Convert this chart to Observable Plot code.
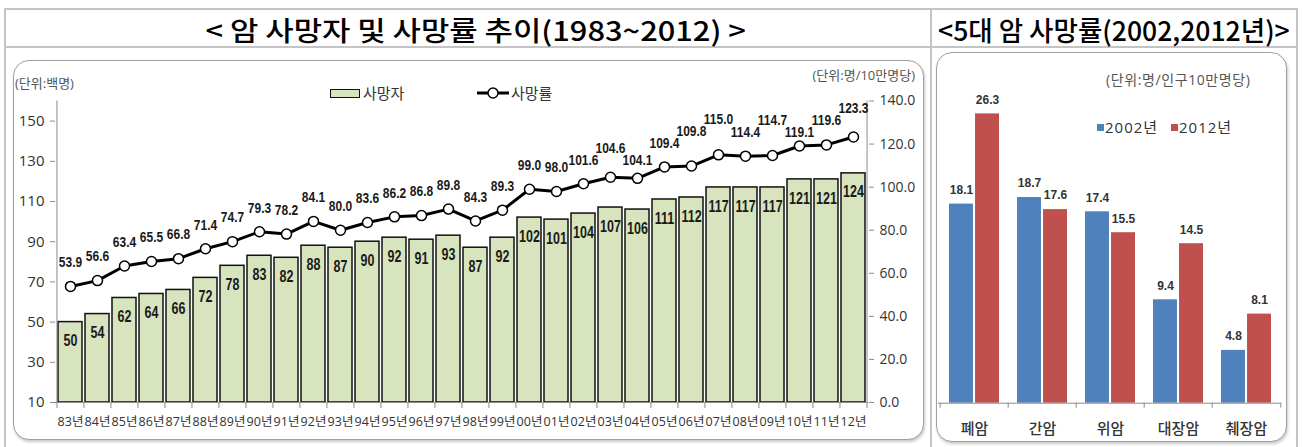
<!DOCTYPE html>
<html><head><meta charset="utf-8">
<script src="https://cdn.jsdelivr.net/npm/d3@7"></script>
<script src="https://cdn.jsdelivr.net/npm/@observablehq/plot@0.6"></script>
<style>
html,body{margin:0;padding:0;background:#fff;}
#root{position:relative;width:1302px;height:447px;overflow:hidden;font-family:"Open Sans","Noto Sans CJK KR",sans-serif;color:#333;}
.ln{position:absolute;background:#c4c4c4;}
.panel{position:absolute;border:1px solid #a0a0a0;border-radius:16px;box-shadow:1px 2px 3px rgba(0,0,0,0.22);background:#fff;box-sizing:border-box;}
.title{position:absolute;font-family:"Noto Sans CJK KR",sans-serif;font-weight:500;font-size:27px;line-height:34px;color:#000;white-space:nowrap;}
.t{position:absolute;white-space:nowrap;line-height:20px;}
.chart{position:absolute;}
</style></head>
<body><div id="root"></div>
<script>
// ---------- data ----------
const years = ["83년","84년","85년","86년","87년","88년","89년","90년","91년","92년","93년","94년","95년","96년","97년","98년","99년","00년","01년","02년","03년","04년","05년","06년","07년","08년","09년","10년","11년","12년"];
const deaths = [50,54,62,64,66,72,78,83,82,88,87,90,92,91,93,87,92,102,101,104,107,106,111,112,117,117,117,121,121,124];
const rates = [53.9,56.6,63.4,65.5,66.8,71.4,74.7,79.3,78.2,84.1,80.0,83.6,86.2,86.8,89.8,84.3,89.3,99.0,98.0,101.6,104.6,104.1,109.4,109.8,115.0,114.4,114.7,119.1,119.6,123.3];
const leftTicks = [10,30,50,70,90,110,130,150];
const rightTicks = [0,20,40,60,80,100,120,140];
const leftSeries = ["사망자","사망률"];

const cancers = ["폐암","간암","위암","대장암","췌장암"];
const rate2002 = [18.1,18.7,17.4,9.4,4.8];
const rate2012 = [26.3,17.6,15.5,14.5,8.1];
const rightSeries = ["2002년","2012년"];

const titleLeft = "< 암 사망자 및 사망률 추이(1983~2012) >";
const titleRight = "<5대 암 사망률(2002,2012년)>";
const unitLeft = "(단위:백명)";
const unitRight = "(단위:명/10만명당)";
const unit2 = "(단위:명/인구10만명당)";

// ---------- layout ----------
const root = document.getElementById("root");
function el(tag, cls, css, html){const e=document.createElement(tag); if(cls) e.className=cls; Object.assign(e.style, css||{}); if(html!=null) e.innerHTML=html; root.appendChild(e); return e;}

// table grid
el("div","ln",{left:"5px",top:"8px",width:"1293px",height:"2px"});
el("div","ln",{left:"5px",top:"46px",width:"1293px",height:"2px"});
el("div","ln",{left:"4px",top:"8px",width:"2px",height:"439px"});
el("div","ln",{left:"930px",top:"8px",width:"2px",height:"439px"});
el("div","ln",{left:"1296px",top:"8px",width:"2px",height:"439px"});

// titles
function title(text, cx, cy, w){
  const e = el("div","title",{left:"0px",top:"0px"},text);
  const ow = e.offsetWidth;
  e.style.left = (cx - ow/2) + "px";
  e.style.top = (cy - 17) + "px";
  e.style.transform = `scaleX(${w/ow})`;
  e.style.transformOrigin = "center center";
}
title(titleLeft, 475, 30, 540);
title(titleRight, 1114, 30, 352);

// panels
el("div","panel",{left:"13px",top:"60px",width:"911px",height:"380px"});
el("div","panel",{left:"936px",top:"52px",width:"351px",height:"390px"});

// condense value labels (the reference uses a narrow bold face)
function squeeze(g, factor){
  g.querySelectorAll('text').forEach(t=>{
    const w=t.getComputedTextLength();
    t.setAttribute("textLength", (w*factor).toFixed(2));
    t.setAttribute("lengthAdjust","spacingAndGlyphs");
  });
}
// stagger neighbouring labels that would collide (as the reference does)
function stagger(g, h, minAbovePoint, defaultAbove){
  const texts=[...g.querySelectorAll('text')];
  let prev=null;
  texts.forEach(t=>{
    const r=t.getBoundingClientRect();
    const cur={cx:(r.left+r.right)/2, cy:(r.top+r.bottom)/2, w:r.width, shift:0};
    if(prev && Math.abs(cur.cx-prev.cx) < (cur.w+prev.w)/2-1 && Math.abs(cur.cy-prev.cy) < h){
      let target;
      const pointY = cur.cy + defaultAbove;
      if(prev.shift<0 && prev.cy+h <= pointY-minAbovePoint) target=prev.cy+h;
      else target=prev.cy-h;
      cur.shift=target-cur.cy; cur.cy=target;
      const tr=t.getAttribute("transform")||"";
      t.setAttribute("transform", tr+` translate(0,${cur.shift.toFixed(2)})`);
    }
    prev=cur;
  });
}

// ---------- left chart ----------
const toLeft = r => 10 + r*150/140;
const fromLeft = v => (v-10)*140/150;
const rows = years.map((y,i)=>({year:y, deaths:deaths[i], rate:rates[i], rateY:toLeft(rates[i])}));
const valFont = '"Liberation Sans","Open Sans",sans-serif';
const W1=911,H1=380,ml1=42,mr1=56,mt1=40.5,mb1=38;
const step1=(W1-ml1-mr1)/years.length;
const axisGray="#8c8c8c";
const chart1 = Plot.plot({
  width:W1,height:H1,marginLeft:ml1,marginRight:mr1,marginTop:mt1,marginBottom:mb1,
  style:{fontFamily:'"Open Sans","Noto Sans CJK KR",sans-serif',fontSize:"14px",color:"#333",background:"transparent",overflow:"visible"},
  x:{type:"band",domain:years,paddingInner:0.12,paddingOuter:0.06,axis:null},
  y:{domain:[10,160],axis:null},
  marks:[
    Plot.barY(rows,{x:"year",y1:10,y2:"deaths",fill:"#d7e4bd",stroke:"#111",strokeWidth:1.5}),
    Plot.text(rows,{x:"year",y:"deaths",text:d=>String(d.deaths),dy:19,fontFamily:valFont,fontWeight:"bold",fontSize:16,fill:"#1a1a1a"}),
    Plot.ruleY([10],{stroke:axisGray}),
    Plot.ruleX([years[0]],{y1:10,y2:160,dx:-step1/2,stroke:axisGray}),
    Plot.ruleX([years[years.length-1]],{y1:10,y2:160,dx:step1/2,stroke:axisGray}),
    Plot.ruleX(years,{y1:10,y2:7,dx:-step1/2,stroke:axisGray}),
    Plot.ruleX([years[years.length-1]],{y1:10,y2:7,dx:step1/2,stroke:axisGray}),
    Plot.axisY(leftTicks,{anchor:"left",tickSize:5,tickPadding:6,stroke:axisGray,fill:"#333",fontSize:15,label:null}),
    Plot.axisY(rightTicks.map(toLeft),{anchor:"right",tickSize:5,tickPadding:6,tickFormat:d=>fromLeft(d).toFixed(1),stroke:axisGray,fill:"#333",fontSize:14,label:null}),
    Plot.axisX({anchor:"bottom",tickSize:0,tickPadding:15,fontSize:12.5,fill:"#333",label:null}),
    Plot.line(rows,{x:"year",y:"rateY",stroke:"#000",strokeWidth:3}),
    Plot.dot(rows,{x:"year",y:"rateY",r:5,fill:"#fff",stroke:"#000",strokeWidth:1.5}),
    Plot.text(rows,{x:"year",y:"rateY",text:d=>d.rate.toFixed(1),dy:-24,fontFamily:valFont,fontWeight:"bold",fontSize:15,fill:"#1a1a1a"})
  ]
});
chart1.classList.add("chart");
chart1.style.left="13px"; chart1.style.top="60px";
root.appendChild(chart1);
const textGroups = chart1.querySelectorAll('g[aria-label="text"]');
squeeze(textGroups[0], 0.78);
squeeze(textGroups[1], 0.8);
stagger(textGroups[1], 12, 12, 24);

// left legend + units
el("div","t",{left:"15px",top:"73px",fontSize:"13px",color:"#555"},unitLeft);
el("div","t",{left:"800px",top:"65px",width:"115px",textAlign:"right",fontSize:"13px",color:"#555"},unitRight);
el("div","t",{left:"330px",top:"89px",width:"30px",height:"9px",lineHeight:"9px",background:"#d7e4bd",border:"1.5px solid #111",boxSizing:"border-box"},"");
el("div","t",{left:"363px",top:"83px",fontSize:"15px",color:"#333"},leftSeries[0]);
el("div","t",{left:"476px",top:"83px",width:"34px",height:"20px"},
  '<svg width="34" height="20"><line x1="1" y1="10" x2="33" y2="10" stroke="#000" stroke-width="3"/><circle cx="17" cy="10" r="5" fill="#fff" stroke="#000" stroke-width="1.5"/></svg>');
el("div","t",{left:"511px",top:"83px",fontSize:"15px",color:"#333"},leftSeries[1]);

// ---------- right chart ----------
const rows2 = cancers.map((c,i)=>({cancer:c,a:rate2002[i],b:rate2012[i]}));
const W2=351,H2=390,ml2=2,mr2=6,mt2=20.7,mb2=39.3;
const pad2=0.27;
const step2=(W2-ml2-mr2)/cancers.length;
const half=step2*(1-pad2)/2;
const blue="#4f81bd", red="#c0504d";
const chart2 = Plot.plot({
  width:W2,height:H2,marginLeft:ml2,marginRight:mr2,marginTop:mt2,marginBottom:mb2,
  style:{fontFamily:'"Noto Sans CJK KR","Open Sans",sans-serif',fontSize:"15px",color:"#333",background:"transparent",overflow:"visible"},
  x:{type:"band",domain:cancers,paddingInner:pad2,paddingOuter:pad2/2,axis:null},
  y:{domain:[0,30],axis:null},
  marks:[
    Plot.barY(rows2,{x:"cancer",y:"a",fill:blue,insetRight:half+1}),
    Plot.barY(rows2,{x:"cancer",y:"b",fill:red,insetLeft:half+1}),
    Plot.text(rows2,{x:"cancer",y:"a",text:d=>d.a.toFixed(1),dx:-(half+1)/2,dy:-14,fontFamily:valFont,fontWeight:"bold",fontSize:12,fill:"#333"}),
    Plot.text(rows2,{x:"cancer",y:"b",text:d=>d.b.toFixed(1),dx:(half+1)/2,dy:-14,fontFamily:valFont,fontWeight:"bold",fontSize:12,fill:"#333"}),
    Plot.ruleY([0],{stroke:axisGray}),
    Plot.ruleX(cancers,{y1:0,y2:-0.45,dx:-step2/2,stroke:axisGray}),
    Plot.ruleX([cancers[cancers.length-1]],{y1:0,y2:-0.45,dx:step2/2,stroke:axisGray}),
    Plot.axisX({anchor:"bottom",tickSize:0,tickPadding:20,fontSize:15,fontWeight:500,fill:"#333",label:null})
  ]
});
chart2.classList.add("chart");
chart2.style.left="936px"; chart2.style.top="52px";
root.appendChild(chart2);

// right legend + unit
el("div","t",{left:"1106px",top:"70px",fontSize:"14px",letterSpacing:"0.6px",color:"#555"},unit2);
el("div","t",{left:"1097px",top:"124px",width:"7px",height:"7px",background:blue},"");
el("div","t",{left:"1105px",top:"117px",fontSize:"15px",letterSpacing:"1px",color:"#333"},rightSeries[0]);
el("div","t",{left:"1171px",top:"124px",width:"7px",height:"7px",background:red},"");
el("div","t",{left:"1179px",top:"117px",fontSize:"15px",letterSpacing:"1px",color:"#333"},rightSeries[1]);
</script>
</body></html>
